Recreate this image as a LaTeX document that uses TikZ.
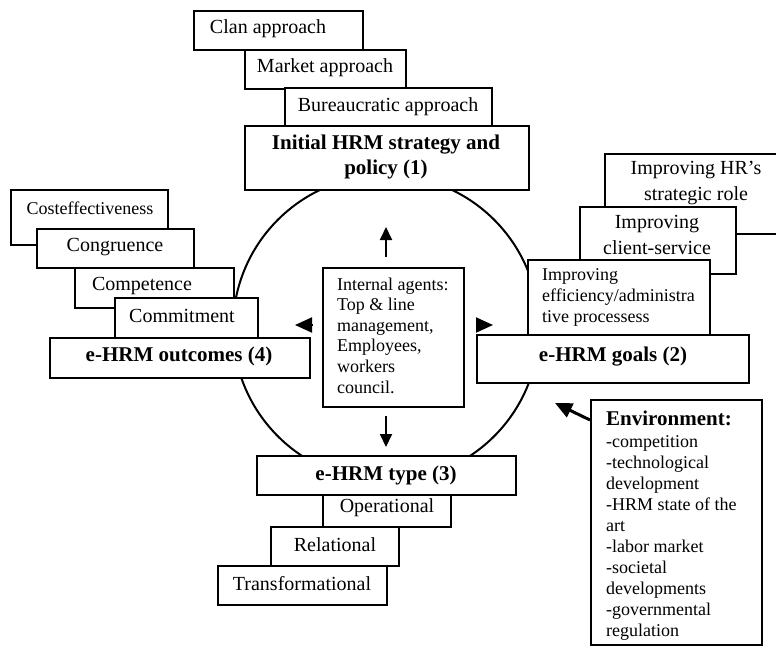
\documentclass[tikz,border=0pt]{standalone}
\usepackage{fontspec}
\setmainfont{Liberation Serif}
\usetikzlibrary{arrows.meta}
\newcommand\hrmbox[5]{\node[bx, anchor=north west, minimum width={#4pt-#2pt}, minimum height={#5pt-#3pt}] (#1) at (#2,#3) {};}
\begin{document}
\begin{tikzpicture}[x=1pt,y=-1pt,
 bx/.style={draw, line width=2pt, fill=white, inner sep=0pt},
 big/.style={inner sep=0pt, align=center, font=\fontsize{20}{26}\selectfont},
 sml/.style={inner sep=0pt, align=left, font=\fontsize{18}{20.6}\selectfont},
 envl/.style={inner sep=0pt, align=left, font=\fontsize{18}{20.9}\selectfont},
 ttl/.style={inner sep=0pt, align=center, font=\fontsize{21}{25}\selectfont\bfseries},
 arr/.style={line width=2pt, -{Triangle[length=13pt,width=12pt]}},
 headarr/.style={line width=2pt, -{Triangle[length=17pt,width=15pt]}},
 envarr/.style={line width=3pt, -{Triangle[length=17pt,width=15pt]}},
]
\useasboundingbox (0,0) rectangle (776,646);
\clip (0,0) rectangle (776,646);
% cycle
\draw[line width=2pt] (386,328) circle[radius=153pt];

% top stack
\hrmbox{clanB}{193}{10}{362}{49}
\node[big] (clan) at (268,29) {Clan approach};
\hrmbox{marketB}{244}{49}{405}{88}
\node[big] (market) at (325,68) {Market approach};
\hrmbox{bureauB}{284}{87}{491}{126}
\node[big] (bureau) at (388,107) {Bureaucratic approach};
\hrmbox{initB}{244}{125}{528}{189}
\node[ttl] (init) at (386,156.5) {Initial HRM strategy and\\policy (1)};

% left stack
\hrmbox{costB}{10}{189}{167}{244}
\node[sml] (cost) at (90,208) {Costeffectiveness};
\hrmbox{congB}{36}{228}{193}{267}
\node[big] (cong) at (115,247) {Congruence};
\hrmbox{compB}{74}{267}{233}{307}
\node[big] (comp) at (142,286) {Competence};
\hrmbox{commB}{114}{297}{257}{337}
\node[big] (comm) at (182,316) {Commitment};
\hrmbox{outB}{49}{337}{309}{377}
\node[ttl] (out) at (179,356.5) {e-HRM outcomes (4)};

% right stack
\hrmbox{hrB}{604}{153}{792}{233}
\node[big] (hr) at (696,183) {Improving HR's\\strategic role};
\hrmbox{clientB}{579}{206}{735}{273}
\node[big] (client) at (657,235) {Improving\\client-service};
\hrmbox{effB}{527}{259}{709}{334}
\node[sml, anchor=west] (eff) at (542,297.5) {Improving\\efficiency/administra\\tive processess};
\hrmbox{goalsB}{476}{334}{748}{382}
\node[ttl] (goals) at (613,357) {e-HRM goals (2)};

% bottom stack
\hrmbox{typeB}{256}{455}{515}{494}
\node[ttl] (type) at (386,475) {e-HRM type (3)};
\hrmbox{operB}{322}{494}{450}{526}
\node[big] (oper) at (387,508) {Operational};
\hrmbox{relB}{270}{526}{398}{565}
\node[big] (rel) at (335,545) {Relational};
\hrmbox{transB}{217}{565}{386}{604}
\node[big] (trans) at (302,584) {Transformational};

% centre
\hrmbox{center}{322}{267}{463}{406}
\node[sml, anchor=west] (agents) at (337,335.5) {Internal agents:\\Top \& line\\management,\\Employees,\\workers\\council.};
\coordinate (upTip) at (386,227);
\coordinate (dnTip) at (386,447);
\coordinate (lfTip) at (295,325);
\coordinate (rtTip) at (493,325);
\draw[arr, shorten <=10pt] (center.north -| upTip) -- (upTip);
\draw[arr, shorten <=8pt] (center.south -| dnTip) -- (dnTip);
\draw[headarr, shorten <=9pt] (center.west |- lfTip) -- (lfTip);
\draw[headarr, shorten <=14pt] (center.east |- rtTip) -- (rtTip);

% environment
\hrmbox{env}{590}{399}{761}{644}
\node[ttl, anchor=west] (envT) at (606,418) {Environment:};
\node[envl, anchor=west] (envL) at (606,538) {-competition\\-technological\\development\\-HRM state of the\\art\\-labor market\\-societal\\developments\\-governmental\\regulation};
\coordinate (envTip) at (555,403);
\draw[envarr] ([yshift=-21pt]env.north west) -- (envTip);
\end{tikzpicture}
\end{document}
